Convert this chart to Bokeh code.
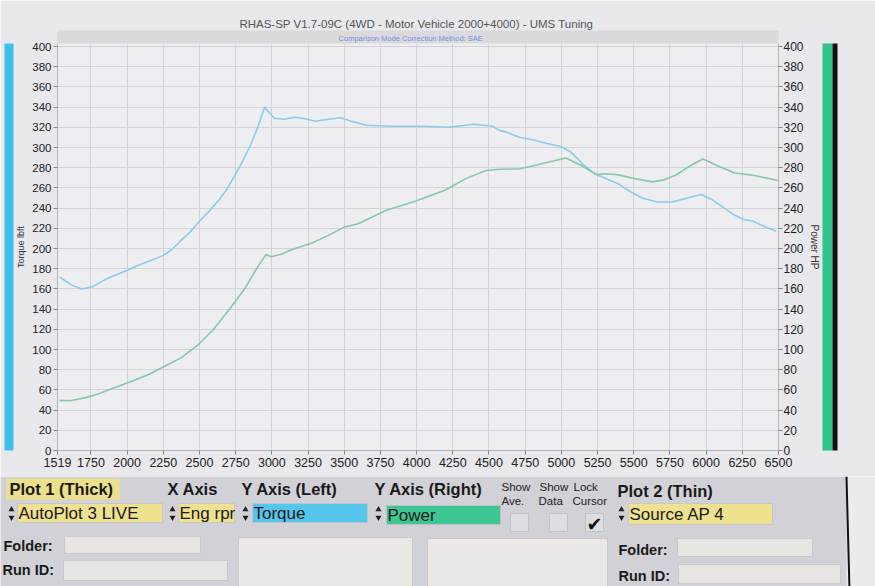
from bokeh.plotting import figure
from bokeh.models import Range1d, LinearAxis, FixedTicker
from bokeh.embed import file_html
from bokeh.resources import INLINE
from bokeh.core.properties import value

# ---------------- data ----------------
TITLE = "RHAS-SP V1.7-09C  (4WD - Motor Vehicle 2000+4000) - UMS Tuning"
SUBTITLE = "Comparison Mode        Correction Method: SAE"
X_TICKS = [1519, 1750, 2000, 2250, 2500, 2750, 3000, 3250, 3500, 3750, 4000,
           4250, 4500, 4750, 5000, 5250, 5500, 5750, 6000, 6250, 6500]
Y_TICKS = [0, 20, 40, 60, 80, 100, 120, 140, 160, 180, 200, 220, 240, 260,
           280, 300, 320, 340, 360, 380, 400]

rpm_torque = [1533, 1614, 1685, 1760, 1844, 1925, 2003, 2070, 2139, 2200, 2254,
              2310, 2366, 2433, 2499, 2567, 2635, 2690, 2745, 2800, 2857, 2905,
              2950, 3016, 3086, 3158, 3228, 3300, 3391, 3476, 3547, 3655, 3817,
              4058, 4219, 4397, 4524, 4573, 4624, 4715, 4808, 4900, 4996, 5066,
              5160, 5231, 5310, 5394, 5480, 5558, 5660, 5766, 5870, 5965, 6046,
              6115, 6185, 6255, 6324, 6400, 6484]
torque_lbft = [172, 164, 160, 162, 169, 174, 178.5, 183, 187, 190, 193.5,
               199, 207, 216, 227, 237, 248, 259, 272.5, 287, 304, 321,
               340, 329, 328, 330, 328.5, 326, 328, 329.5, 326, 322, 321,
               321, 320, 323, 321, 317, 315, 310, 307.5, 304, 301, 295.5,
               282, 274, 269, 264, 256, 250, 246, 246, 250, 253.5, 248,
               241, 234, 229, 227, 222, 217]

rpm_power = [1533, 1609, 1721, 1800, 1879, 2014, 2149, 2260, 2373, 2485, 2596,
             2706, 2817, 2905, 2960, 2996, 3060, 3134, 3272, 3390, 3503, 3595,
             3690, 3781, 3990, 4200, 4339, 4480, 4574, 4714, 4808, 4920, 5032,
             5137, 5242, 5320, 5395, 5510, 5628, 5710, 5793, 5890, 5978, 6080,
             6192, 6333, 6495]
power_hp = [49.6, 49.3, 52.6, 56, 60.3, 67.5, 75.2, 83.4, 91.7, 104, 119.8,
            139.7, 161.2, 182.6, 194, 191.8, 194, 198.8, 205.3, 213, 221.4, 224.6,
            231, 237.4, 246.9, 258, 269.2, 277.2, 278.5, 278.9, 282, 286, 289.7,
            282.2, 273.2, 274, 272.9, 269, 266, 268, 272.8, 282, 288.6, 282,
            275.1, 272.3, 267.4]

# control panel (texts of the software UI under the chart)
HEADERS = ["Plot 1 (Thick)", "X Axis", "Y Axis (Left)", "Y Axis (Right)", "Plot 2 (Thin)"]
FIELD_TEXTS = ["AutoPlot 3 LIVE", "Eng rpr", "Torque", "Power", "Source AP 4"]
SMALL_LABELS = ["Show", "Ave.", "Show", "Data", "Lock", "Cursor"]
ROW_LABELS = ["Folder:", "Run ID:", "Folder:", "Run ID:"]

FONT = "Liberation Sans"
BLUE = "#89cdeb"
GREEN = "#84c9a8"
W = 875

# ---------------- chart ----------------
p = figure(width=W, height=476, x_range=Range1d(1519, 6500), y_range=Range1d(0, 403),
           output_backend="svg", toolbar_location=None, title=TITLE,
           min_border_left=57, min_border_right=97, min_border_top=43, min_border_bottom=26,
           background_fill_color="#eeedf1", border_fill_color="#e9e8ec",
           outline_line_color=None)

xa = p.below[0]
ya = p.left[0]

p.title.align = "center"
p.title.text_font = FONT
p.title.text_font_size = "11.5px"
p.title.text_font_style = "normal"
p.title.text_color = "#555555"
p.title.standoff = 2

# band with subtitle
band = LinearAxis(ticker=FixedTicker(ticks=[]), axis_label=SUBTITLE,
                  axis_label_text_font=FONT, axis_label_text_font_size="7.5px",
                  axis_label_text_color="#7090dc", axis_label_text_font_style="normal",
                  axis_label_standoff=1, major_label_text_font_size="0px",
                  major_tick_out=0, major_tick_in=0, minor_tick_out=0, minor_tick_in=0,
                  major_tick_line_color=None, minor_tick_line_color=None,
                  axis_line_color=None, background_fill_color="#dadadd")
p.add_layout(band, "above")

xa.ticker = FixedTicker(ticks=X_TICKS)
xa.major_label_text_font = FONT
xa.major_label_text_font_size = "12.5px"
xa.major_label_text_color = "#222222"
xa.axis_line_color = "#b4b4ba"
xa.major_tick_line_color = "#888888"
xa.major_tick_out = 4
xa.major_tick_in = 0
xa.minor_tick_line_color = None
xa.major_label_standoff = 3

ya.ticker = FixedTicker(ticks=Y_TICKS)
ya.axis_label = "Torque lbft"
ya.axis_label_text_font = FONT
ya.axis_label_text_font_size = "9px"
ya.axis_label_text_font_style = "normal"
ya.axis_label_text_color = "#333333"
ya.axis_label_standoff = 3
ya.major_label_text_font = FONT
ya.major_label_text_font_size = "11.5px"
ya.major_label_text_color = "#222222"
ya.major_label_standoff = 2
ya.axis_line_color = "#b4b4ba"
ya.major_tick_line_color = "#888888"
ya.major_tick_out = 4
ya.major_tick_in = 0
ya.minor_tick_line_color = None

p.extra_y_ranges = {"power": Range1d(0, 403)}
ra = LinearAxis(y_range_name="power", ticker=FixedTicker(ticks=Y_TICKS),
                axis_label="Power HP", axis_label_text_font=FONT,
                axis_label_text_font_size="10px", axis_label_text_font_style="normal",
                axis_label_text_color="#333333", axis_label_standoff=2,
                major_label_text_font=FONT, major_label_text_font_size="12px",
                major_label_text_color="#222222", major_label_standoff=1,
                axis_line_color="#b4b4ba", major_tick_line_color="#888888",
                major_tick_out=4, major_tick_in=0, minor_tick_line_color=None)
p.add_layout(ra, "right")

# coloured stripes beside the axes
stripe_l = LinearAxis(ticker=FixedTicker(ticks=[]), axis_label=" ",
                      axis_label_text_font_size="5px", axis_label_standoff=0,
                      major_label_text_font_size="0px", major_tick_out=0, major_tick_in=0,
                      minor_tick_out=0, minor_tick_in=0, axis_line_color=None,
                      background_fill_color="#3fc0e8")
p.add_layout(stripe_l, "left")
stripe_r = LinearAxis(y_range_name="power", ticker=FixedTicker(ticks=[]), axis_label=" ",
                      axis_label_text_font_size="7px", axis_label_standoff=0,
                      major_label_text_font_size="0px", major_tick_out=0, major_tick_in=0,
                      minor_tick_out=0, minor_tick_in=0, axis_line_color=None,
                      background_fill_color="#30c48c")
p.add_layout(stripe_r, "right")
edge_r = LinearAxis(y_range_name="power", ticker=FixedTicker(ticks=[]), axis_label=" ",
                    axis_label_text_font_size="2px", axis_label_standoff=0,
                    major_label_text_font_size="0px", major_tick_out=0, major_tick_in=0,
                    minor_tick_out=0, minor_tick_in=0, axis_line_color=None,
                    background_fill_color="#111111")
p.add_layout(edge_r, "right")

p.xgrid.ticker = FixedTicker(ticks=X_TICKS)
p.ygrid.ticker = FixedTicker(ticks=Y_TICKS)
p.grid.grid_line_color = "#d3d2d9"
p.grid.grid_line_width = 1

p.line(rpm_torque, torque_lbft, line_color=BLUE, line_width=1.6)
p.line(rpm_power, power_hp, line_color=GREEN, line_width=1.6, y_range_name="power")

# ---------------- control panel ----------------
OY = 476
H2 = 110
q = figure(width=W, height=H2, x_range=Range1d(0, W), y_range=Range1d(H2, 0),
           output_backend="svg", toolbar_location=None,
           x_axis_location=None, y_axis_location=None, min_border=0,
           outline_line_color=None, background_fill_color="#ecebef",
           border_fill_color="#ecebef")
q.grid.visible = False

def by(v):
    return [a - OY for a in v]

# panel background
q.quad(left=[0], right=[846], top=by([476]), bottom=by([590]),
       fill_color="#d2d1d7", line_color=None)
q.segment(x0=[846], y0=by([476]), x1=[849], y1=by([590]),
          line_color="#111111", line_width=2)

# header highlight
q.quad(left=[6], right=[119], top=by([478]), bottom=by([499]),
       fill_color="#ece08c", line_color=None)

# fields
f_left = [17, 178, 252, 386, 628, 64, 238, 427, 677, 63, 678]
f_right = [162, 234, 367, 500, 772, 200, 412, 607, 812, 227, 840]
f_top = [503, 503, 503, 505, 503, 536, 537, 538, 538, 560, 564]
f_bot = [522, 522, 522, 524, 524, 553, 590, 590, 556, 580, 583]
f_col = ["#eee190", "#eee190", "#56c6ec", "#3fc793", "#eee190",
         "#e8e5e3", "#ebe8e6", "#ebe8e6", "#e8e5e3", "#e8e5e3", "#e8e5e3"]
q.quad(left=f_left, right=f_right, top=by(f_top), bottom=by(f_bot),
       fill_color=f_col, line_color="#c4c3c8", line_width=0.8)

# checkboxes
c_left = [510, 549, 585]
q.quad(left=c_left, right=[a + 18 for a in c_left], top=by([513] * 3),
       bottom=by([531] * 3), fill_color="#dedde1", line_color="#c2c1c6")
q.text(x=[586], y=by([523]), text=["\u2714"], text_font=value("DejaVu Sans"),
       text_font_size=value("19px"), text_color="#111111",
       text_align="left", text_baseline="middle")

# up/down arrows
arr_x = [11, 172, 245, 378, 621]
q.scatter(x=arr_x, y=by([509] * 5), marker="triangle", size=6,
          fill_color="#222222", line_color=None)
q.scatter(x=arr_x, y=by([517] * 5), marker="inverted_triangle", size=6,
          fill_color="#222222", line_color=None)

# header texts
q.text(x=[9, 167, 241, 374, 617], y=by([488, 488, 488, 488, 490]), text=HEADERS,
       text_font=value(FONT), text_font_size=value("16.5px"), text_font_style="bold",
       text_color="#1a1a1a", text_align="left", text_baseline="middle")

# field texts
q.text(x=[18, 179, 253, 387, 629], y=by([513, 513, 513, 515, 514]), text=FIELD_TEXTS,
       text_font=value(FONT), text_font_size=value("17px"),
       text_color="#1a1a1a", text_align="left", text_baseline="middle")

# small labels
q.text(x=[501, 501, 539, 538, 573, 572], y=by([486, 500, 486, 500, 486, 500]),
       text=SMALL_LABELS, text_font=value(FONT), text_font_size=value("11.5px"),
       text_color="#222222", text_align="left", text_baseline="middle")

# row labels
q.text(x=[3, 2, 618, 618], y=by([545, 569, 549, 575]), text=ROW_LABELS,
       text_font=value(FONT), text_font_size=value("14.5px"), text_font_style="bold",
       text_color="#1a1a1a", text_align="left", text_baseline="middle")

open("out.html", "w").write(file_html([p, q], INLINE))
